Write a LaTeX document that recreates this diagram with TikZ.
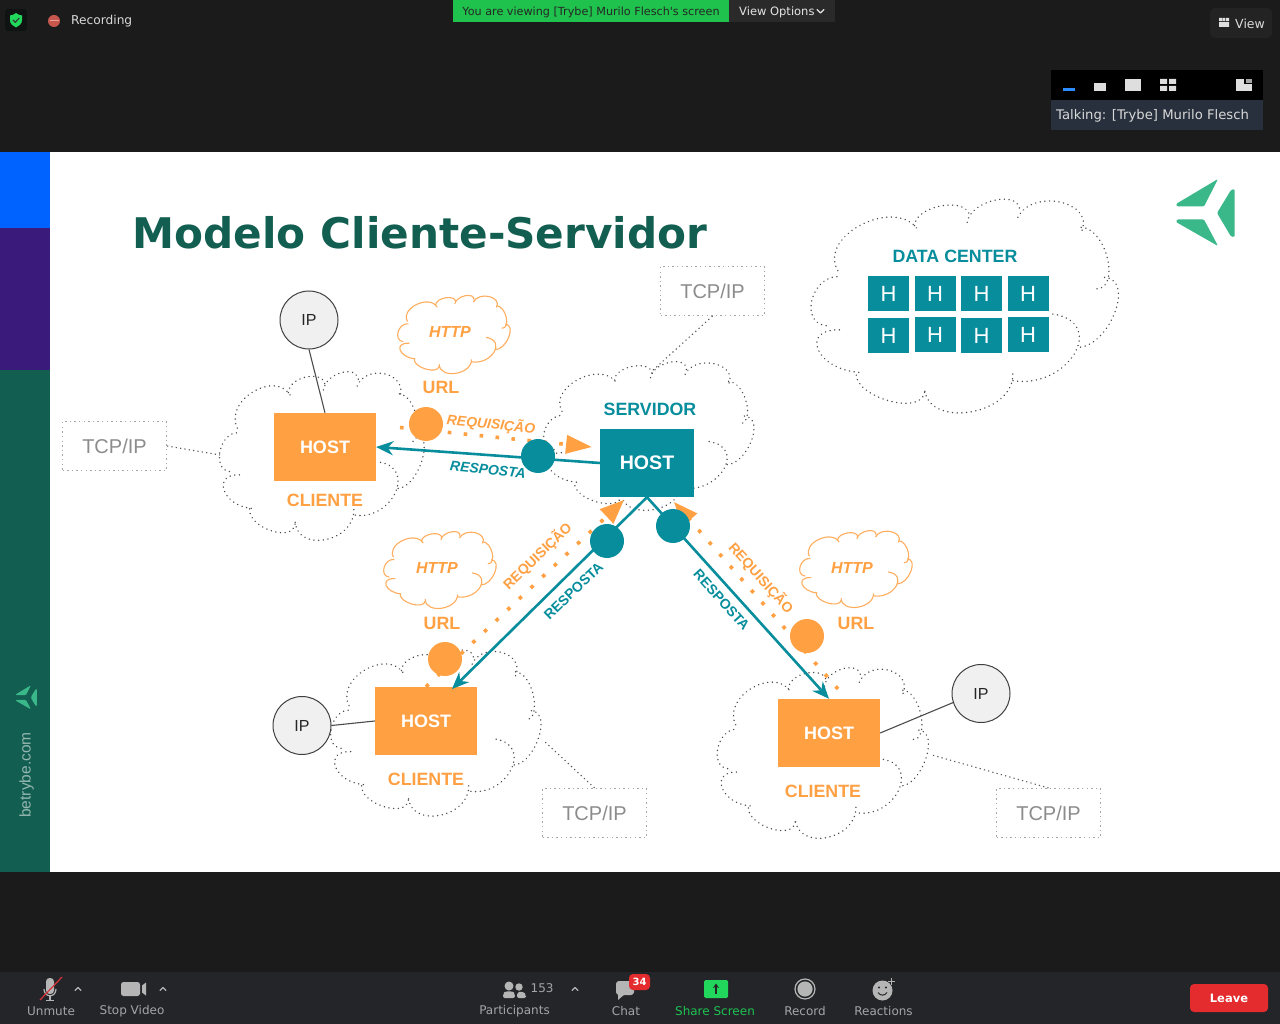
\documentclass[tikz,border=0pt]{standalone}
\usepackage{fontspec}
\setmainfont{Liberation Sans}
\newfontfamily\uifont{DejaVu Sans}
\usetikzlibrary{arrows.meta,calc}
\definecolor{bgdark}{HTML}{1B1B1B}
\definecolor{barbg}{HTML}{232528}
\definecolor{teal1}{HTML}{078D9C}
\definecolor{org}{HTML}{FFA043}
\definecolor{side}{HTML}{125E50}
\definecolor{logo}{HTML}{3AB88A}
\definecolor{uigray}{HTML}{A3A6A9}
\definecolor{icongray}{HTML}{B5B5B5}
\definecolor{zgreen}{HTML}{22D85C}
\definecolor{zred}{HTML}{E42B2D}
\definecolor{sideblue}{HTML}{0062FF}
\definecolor{sidepurple}{HTML}{3A1B7C}
\definecolor{shieldbg}{HTML}{0F1412}
\definecolor{recred}{HTML}{C7574D}
\definecolor{recl}{HTML}{E8A098}
\definecolor{bannergreen}{HTML}{1FC24C}
\definecolor{bandark}{HTML}{2A2A2A}
\definecolor{viewbg}{HTML}{232323}
\definecolor{talkbg}{HTML}{27303C}
\definecolor{zblue}{HTML}{2D8CFF}
\definecolor{strike}{HTML}{D8343A}
\tikzset{
  box/.style={inner sep=0pt,minimum width=102pt,minimum height=68pt,fill=org,text=white,font=\bfseries\fontsize{18}{20}\selectfont},
  srvbox/.style={inner sep=0pt,minimum width=94pt,minimum height=68pt,fill=teal1,text=white,font=\bfseries\fontsize{19.6}{22}\selectfont},
  hbox/.style={inner sep=0pt,minimum width=41pt,minimum height=35pt,fill=teal1,text=white,font=\fontsize{22}{24}\selectfont},
  olbl/.style={inner sep=0pt,text=org,font=\bfseries\fontsize{17.8}{20}\selectfont},
  tlbl/.style={inner sep=0pt,text=teal1,font=\bfseries\fontsize{17.8}{20}\selectfont},
  httplbl/.style={inner sep=0pt,text=org,font=\bfseries\itshape\fontsize{16}{18}\selectfont},
  oit/.style={inner sep=0pt,text=org,font=\bfseries\itshape\fontsize{14}{16}\selectfont},
  tit/.style={inner sep=0pt,text=teal1,font=\bfseries\itshape\fontsize{14}{16}\selectfont},
  odiag/.style={inner sep=0pt,text=org,font=\bfseries\fontsize{14}{16}\selectfont},
  tdiag/.style={inner sep=0pt,text=teal1,font=\bfseries\fontsize{14}{16}\selectfont},
  tcpbox/.style={draw=black!35,line width=1.1pt,dash pattern=on 1.4pt off 3.2pt,minimum width=104pt,minimum height=49pt,inner sep=0pt,text=black!45,font=\fontsize{20}{22}\selectfont},
  leader/.style={draw=black!65,line width=1.1pt,dash pattern=on 1.2pt off 3.2pt},
  ipc/.style={circle,draw=black!75,line width=1pt,fill=black!6,minimum size=58pt,inner sep=0pt,text=black!85,font=\fontsize{16}{18}\selectfont},
  ipl/.style={draw=black!70,line width=1.1pt},
  dotcloud/.style={draw=black!70,line width=1.5pt,line cap=round,dash pattern=on 0.1pt off 4.6pt},
  httpcloud/.style={draw=org!85,line width=1.1pt},
  tealarr/.style={draw=teal1,line width=2.6pt,-{Stealth[length=17pt,width=14pt]}},
  dotarr/.style={draw=org,line width=3.6pt,dash pattern=on 3.6pt off 12.4pt},
  tealdot/.style={circle,fill=teal1,minimum size=34pt,inner sep=0pt},
  orgdot/.style={circle,fill=org,minimum size=34pt,inner sep=0pt},
  ui/.style={inner sep=0pt,text=uigray,font=\uifont\fontsize{12}{14}\selectfont},
  uiw/.style={inner sep=0pt,text=black!15,font=\uifont\fontsize{12.2}{15}\selectfont},
  chev/.style={draw=icongray,line width=1.3pt,line cap=round,line join=round},
}
\newcommand{\lobe}[4]{\draw[#1] (#2) .. controls ($(#2)+1.333*(#3)-0.667*(#2)-0.667*(#4)$) and ($(#4)+1.333*(#3)-0.667*(#2)-0.667*(#4)$) .. (#4);}
% style, cx, cy, sx, sy
\newcommand{\cloudat}[5]{\begin{scope}[shift={(#2,#3)},xscale=#4,yscale=#5,shift={(-492,-406)}]
\lobe{#1}{80,465}{38,385}{122,318}
\lobe{#1}{115,300}{190,160}{358,182}
\lobe{#1}{345,165}{430,105}{510,140}
\lobe{#1}{503,155}{590,88}{660,125}
\lobe{#1}{655,140}{785,95}{845,185}
\lobe{#1}{845,170}{925,265}{888,355}
\lobe{#1}{915,320}{945,430}{830,530}
\lobe{#1}{760,430}{825,550}{640,630}
\lobe{#1}{640,610}{510,725}{375,650}
\lobe{#1}{375,665}{265,690}{170,605}
\lobe{#1}{178,605}{55,535}{130,478}
\end{scope}}
\newcommand{\trylogo}[3]{\begin{scope}[shift={(#1,#2)},scale=#3,shift={(-1205.5,-213)}]
\fill[logo,rounded corners=1.2pt] (1176,204) -- (1218,179) -- (1204,206.5) -- (1177,206.5) -- cycle;
\fill[logo,rounded corners=1.2pt] (1176,222) -- (1177,219.5) -- (1204,219.5) -- (1218,246) -- cycle;
\fill[logo,rounded corners=1.2pt] (1234.5,189) -- (1234.5,237) -- (1231,236.5) -- (1217,213) -- (1231,190) -- cycle;
\end{scope}}
\begin{document}
\begin{tikzpicture}[x=1pt,y=-1pt]
\useasboundingbox (0,0) rectangle (1280,1024);
\fill[bgdark] (0,0) rectangle (1280,1024);
% slide
\fill[white] (50,152) rectangle (1280,872);
\fill[sideblue] (0,152) rectangle (50,228);
\fill[sidepurple] (0,228) rectangle (50,370);
\fill[side] (0,370) rectangle (50,872);
\trylogo{26.5}{697.5}{0.36}
\node[inner sep=0pt,rotate=90,text=side!45!white,font=\fontsize{15.5}{18}\selectfont] (site) at (26.5,775) {betrybe.com};
\trylogo{1205.5}{213}{1}
\node[inner sep=0pt,text=side,anchor=base west,font=\uifont\bfseries\fontsize{42.2}{46}\selectfont] (title) at (132.5,248.5) {Modelo Cliente-Servidor};
% clouds
\cloudat{dotcloud}{963.5}{306}{0.3333}{0.3333}
\cloudat{dotcloud}{321}{456}{0.222}{0.263}
\cloudat{dotcloud}{648}{436}{0.228}{0.232}
\cloudat{dotcloud}{435}{733}{0.228}{0.259}
\cloudat{dotcloud}{822}{753}{0.229}{0.266}
\cloudat{httpcloud}{453.5}{334.5}{0.122}{0.122}
\cloudat{httpcloud}{439.5}{570}{0.122}{0.12}
\cloudat{httpcloud}{855.5}{569}{0.122}{0.12}
% hosts
\node[box] (hostL) at (325,447) {HOST};
\node[srvbox] (server) at (647,463) {HOST};
\node[box] (hostB) at (426,721) {HOST};
\node[box] (hostR) at (829,733) {HOST};
% data center
\node[tlbl] (dc) at (955,256) {DATA CENTER};
\node[hbox,minimum width=41pt] (h1) at (888.5,294) {H};
\node[hbox] (h2) at (935,294) {H};
\node[hbox] (h3) at (981.5,294) {H};
\node[hbox] (h4) at (1028,294) {H};
\node[hbox] (h5) at (888.5,336) {H};
\node[hbox] (h6) at (935,335) {H};
\node[hbox] (h7) at (981.5,336) {H};
\node[hbox] (h8) at (1028,335) {H};
% labels
\node[tlbl] (srvlbl) at (650,409) {SERVIDOR};
\node[olbl] (cliL) at (325,500) {CLIENTE};
\node[olbl] (cliB) at (426,779) {CLIENTE};
\node[olbl] (cliR) at (823,791) {CLIENTE};
\node[httplbl] (http1) at (450,332) {HTTP};
\node[httplbl] (http2) at (437,568) {HTTP};
\node[httplbl] (http3) at (852,568) {HTTP};
\node[olbl] (url1) at (441,387) {URL};
\node[olbl] (url2) at (442,623) {URL};
\node[olbl] (url3) at (856,623) {URL};
% IP
\node[ipc] (ip1) at (309,320) {IP};
\node[ipc] (ip2) at (302,725.5) {IP};
\node[ipc] (ip3) at (981,693.5) {IP};
\draw[ipl] (ip1.south) -- (hostL.north);
\draw[ipl] (ip2.east) -- (hostB.west);
\draw[ipl] (ip3.198) -- (hostR.east);
% TCP/IP
\node[tcpbox] (tcp1) at (712.5,291) {TCP/IP};
\node[tcpbox] (tcp2) at (114.5,446) {TCP/IP};
\node[tcpbox] (tcp3) at (594.5,813) {TCP/IP};
\node[tcpbox] (tcp4) at (1048.5,813) {TCP/IP};
\coordinate (lk1) at (651,372);
\coordinate (lk2) at (220,455);
\coordinate (lk3) at (543,740);
\coordinate (lk4) at (932,755);
\draw[leader] (tcp1.south) -- (lk1);
\draw[leader] (tcp2.east) -- (lk2);
\draw[leader] (tcp3.north) -- (lk3);
\draw[leader] (tcp4.north) -- (lk4);
% dotted request arrows
\coordinate (tipL) at (592,447);
\coordinate (tipB) at (624,500);
\coordinate (tipR) at (674,502);
\coordinate (startR) at (838,689);
\coordinate (startL) at (400,427.5);
\draw[dotarr,-{Triangle[length=26pt,width=18pt]}] (startL) -- (tipL);
\draw[dotarr,-{Triangle[length=24pt,width=19pt]}] (hostB.north) -- (tipB);
\draw[dotarr,-{Triangle[length=24pt,width=19pt]}] (startR) -- (tipR);
% teal response arrows
\coordinate (inB) at (452,689);
\draw[tealarr] (server.west) -- (hostL.east);
\draw[tealarr] (server.south) -- (inB);
\draw[tealarr] (server.south) -- (hostR.north);
% circles
\node[orgdot] (o1) at (426,424) {};
\node[orgdot] (o2) at (445,659) {};
\node[orgdot] (o3) at (807,636) {};
\node[tealdot] (t1) at (538,456) {};
\node[tealdot] (t2) at (607,541) {};
\node[tealdot] (t3) at (673,526) {};
% arrow labels
\node[oit,rotate=-6] (req1) at (491,424) {REQUISIÇÃO};
\node[tit,rotate=-6] (res1) at (488,470) {RESPOSTA};
\node[odiag,rotate=44] (req2) at (537.5,556) {REQUISIÇÃO};
\node[tdiag,rotate=44] (res2) at (573.5,591) {RESPOSTA};
\node[odiag,rotate=-48] (req3) at (761,578) {REQUISIÇÃO};
\node[tdiag,rotate=-48] (res3) at (721.5,600) {RESPOSTA};
% --- top UI ---
\fill[shieldbg,rounded corners=3pt] (5,9) rectangle (27,31);
\fill[zgreen] (16,13) .. controls (18,15) and (20,15) .. (22,15.5) -- (22,20) .. controls (22,24) and (19,26) .. (16,27.5) .. controls (13,26) and (10,24) .. (10,20) -- (10,15.5) .. controls (12,15) and (14,15) .. (16,13) -- cycle;
\draw[black!80,line width=1.1pt] (13,20) -- (15.3,22.3) -- (19.3,18);
\fill[recred] (54,21) circle (6);
\fill[recl] (49.5,20) rectangle (58.5,21.5);
\node[uiw,anchor=west] (rec) at (71,21.5) {Recording};
\fill[bannergreen] (453,0) rectangle (729,22);
\fill[bandark] (729,0) rectangle (835,22);
\node[inner sep=0pt,text=black!85,font=\uifont\fontsize{11.2}{13}\selectfont] (viewing) at (591,12) {You are viewing [Trybe] Murilo Flesch's screen};
\node[inner sep=0pt,text=black!10,font=\uifont\fontsize{11.5}{13}\selectfont,anchor=west] (vopt) at (739,12) {View Options};
\draw[chev,draw=black!10] (817,9.5) -- (820.5,13) -- (824,9.5);
\fill[viewbg,rounded corners=5pt] (1210,8) rectangle (1272,38);
\fill[black!12] (1219,18) rectangle (1222,21) (1222.7,18) rectangle (1225.3,21) (1226,18) rectangle (1229,21) (1219,22) rectangle (1229,27);
\node[uiw,anchor=west,font=\uifont\fontsize{12.5}{15}\selectfont] (view) at (1235,23.5) {View};
\fill[black] (1051,70) rectangle (1263,100);
\fill[talkbg] (1051,100) rectangle (1263,130);
\fill[zblue] (1063,88) rectangle (1075,91);
\fill[black!13] (1094,83) rectangle (1106,91);
\fill[black!13] (1125,79) rectangle (1141,91);
\fill[black!13] (1160,79) rectangle (1167,84) (1169,79) rectangle (1176,84) (1160,86) rectangle (1167,91) (1169,86) rectangle (1176,91);
\fill[black!13] (1236,79) rectangle (1252,91);
\fill[black] (1244,79) rectangle (1252,84);
\fill[black!35] (1246,79) rectangle (1252,83);
\node[uiw,anchor=west,font=\uifont\fontsize{13.2}{15}\selectfont] (talk) at (1056,115.5) {Talking: [Trybe] Murilo Flesch};
% --- bottom UI ---
\fill[barbg] (0,972) rectangle (1280,1024);
% mic
\fill[icongray,rounded corners=3.5pt] (46,978) rectangle (54,994);
\draw[icongray,line width=1.2pt] (44,989) .. controls (44,998) and (56,998) .. (56,989);
\draw[icongray,line width=1.2pt] (50,996) -- (50,1000) (46,1000.5) -- (54,1000.5);
\draw[strike,line width=1.2pt] (40,1000) -- (62,977);
\node[ui] (unmute) at (51,1011) {Unmute};
\draw[chev] (75,990.5) -- (78,987.5) -- (81,990.5);
% camera
\fill[icongray,rounded corners=2.5pt] (121,982) rectangle (140,996);
\fill[icongray] (142,985.5) -- (146,982.5) -- (146,995.5) -- (142,992.5) -- cycle;
\node[ui] (stopv) at (132,1011) {Stop Video};
\draw[chev] (160,990.5) -- (163,987.5) -- (166,990.5);
% participants
\fill[icongray] (509,986) circle (4.5);
\fill[icongray] (519,987) circle (3.7);
\fill[icongray,rounded corners=2pt] (503,998) -- (503,994) .. controls (505,991) and (513,991) .. (515,994) -- (515,998) -- cycle;
\fill[icongray,rounded corners=2pt] (517,998) -- (517,992.5) .. controls (520,991.5) and (524,992) .. (526,995) -- (526,998) -- cycle;
\node[ui,anchor=west] (n153) at (530.5,988.5) {153};
\draw[chev] (572,990.5) -- (575,987.5) -- (578,990.5);
\node[ui] (partic) at (514.5,1011) {Participants};
% chat
\fill[icongray,rounded corners=3pt] (616,981) rectangle (634,995);
\fill[icongray] (618,994) -- (618,1000) -- (625,994) -- cycle;
\fill[zred,rounded corners=4pt] (629,974) rectangle (650,990);
\node[inner sep=0pt,text=white,font=\uifont\bfseries\fontsize{10}{12}\selectfont] (c34) at (639.7,982) {34};
\node[ui] (chat) at (626,1011) {Chat};
% share
\fill[zgreen,rounded corners=1.5pt] (704,980) rectangle (728,998);
\draw[black!85,line width=1.4pt,-{Stealth[length=4.5pt,width=6pt]}] (716,994) -- (716,983.5);
\node[ui,text=zgreen!90!black] (share) at (715,1011) {Share Screen};
% record
\draw[icongray,line width=1.2pt] (805,989) circle (10);
\fill[icongray] (805,989) circle (7.6);
\node[ui] (recb) at (805,1011) {Record};
% reactions
\fill[icongray] (882.5,990.5) circle (10);
\fill[barbg] (879,987.5) circle (1.2) (886,987.5) circle (1.2);
\draw[barbg,line width=1pt] (878,992.5) .. controls (880,996) and (885,996) .. (887,992.5);
\draw[icongray,line width=1.4pt] (891.5,978) -- (891.5,985) (888,981.5) -- (895,981.5);
\node[ui] (react) at (883.5,1011) {Reactions};
% leave
\node[fill=zred,rounded corners=4pt,minimum width=78pt,minimum height=28pt,inner sep=0pt,text=white,font=\uifont\bfseries\fontsize{11.5}{13}\selectfont] (leave) at (1229,998) {Leave};
\end{tikzpicture}
\end{document}
